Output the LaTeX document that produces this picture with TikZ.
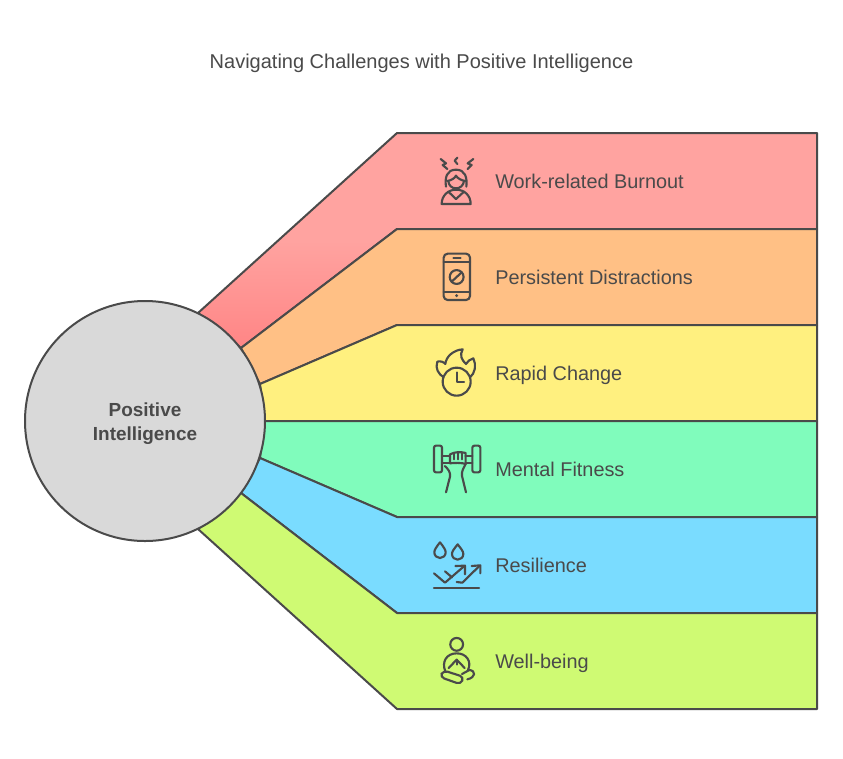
\documentclass[tikz,border=0pt]{standalone}
\usepackage{fontspec}
\setmainfont{Liberation Sans}
\definecolor{ink}{HTML}{4A4A4A}
\definecolor{cred}{HTML}{FFA3A0}
\definecolor{credd}{HTML}{FF8585}
\definecolor{corange}{HTML}{FFC085}
\definecolor{cyellow}{HTML}{FFF07F}
\definecolor{cgreen}{HTML}{80FCBC}
\definecolor{cblue}{HTML}{7ADCFF}
\definecolor{clime}{HTML}{CFFA73}
\definecolor{ccircle}{HTML}{D9D9D9}
\tikzset{
  band/.style={draw=ink,line width=1.5pt,line join=round},
  label/.style={text=ink,anchor=base west,font=\fontsize{14.9}{18}\selectfont,inner sep=0pt},
  icon/.style={draw=ink,line width=1.6pt,line cap=round,line join=round,fill=none},
  iconbox/.style={x=0.25pt,y=-0.25pt}
}
\begin{document}
\begin{tikzpicture}[x=0.75pt,y=-0.75pt]
\useasboundingbox (0,0) rectangle (843,758);
\fill[white] (0,0) rectangle (843,758);
\node[text=ink,font=\fontsize{15}{18}\selectfont,inner sep=0pt,anchor=base] (title) at (421.5,68) {Navigating Challenges with Positive Intelligence};
% bands
\path[band,top color=cred,bottom color=credd,middle color=cred] (198,313) -- (397,133) -- (817,133) -- (817,229) -- (397,229) -- (241,348) -- cycle;
\draw[band,fill=corange] (241,348) -- (397,229) -- (817,229) -- (817,325) -- (397,325) -- (260,384) -- cycle;
\draw[band,fill=cyellow] (260,384) -- (397,325) -- (817,325) -- (817,421) -- (265,421) -- cycle;
\draw[band,fill=cgreen] (265,421) -- (817,421) -- (817,517) -- (397,517) -- (260,458) -- cycle;
\draw[band,fill=cblue] (260,458) -- (397,517) -- (817,517) -- (817,613) -- (397,613) -- (241,493) -- cycle;
\draw[band,fill=clime] (241,493) -- (397,613) -- (817,613) -- (817,709) -- (397,709) -- (198,529) -- cycle;
% hub
\node[circle,draw=ink,line width=1.5pt,fill=ccircle,minimum size=180pt,inner sep=0pt] (hub) at (145,421) {};
\node[align=center,text=ink,inner sep=0pt,font=\fontsize{14.2}{18}\selectfont\bfseries] (hubtext) at (145,424) {Positive\\Intelligence};
% labels
\node[label] (l1) at (495,188) {Work-related Burnout};
\node[label] (l2) at (495,284) {Persistent Distractions};
\node[label] (l3) at (495,380) {Rapid Change};
\node[label] (l4) at (495,476) {Mental Fitness};
\node[label] (l5) at (495,572) {Resilience};
\node[label] (l6) at (495,668) {Well-being};
% icon 1: burnout
\begin{scope}[shift={(420,145)},iconbox]
\draw[icon] (62,42) -- (78,55) -- (68,60) -- (82,72);
\draw[icon] (112,38) -- (104,47) -- (112,57);
\draw[icon] (160,42) -- (143,55) -- (155,60) -- (143,72);
\draw[icon] (78,125) .. controls (74,98) and (80,74) .. (108,74) .. controls (136,74) and (142,98) .. (139,125);
\draw[icon] (82,108) .. controls (94,106) and (104,100) .. (108,92) .. controls (112,100) and (124,106) .. (136,108);
\draw[icon] (85,108) .. controls (86,122) and (96,130) .. (108,130) .. controls (120,130) and (130,122) .. (132,108);
\draw[icon] (65,177) -- (152,177) .. controls (152,152) and (134,134) .. (108,134) .. controls (84,134) and (65,152) .. (65,177) -- cycle;
\draw[icon] (85,140) -- (108,162) -- (132,140);
\end{scope}
% icon 2: phone
\begin{scope}[shift={(420,145)},iconbox]
\draw[icon,rounded corners=3pt] (71,326) rectangle (150,465);
\draw[icon] (71,352) -- (150,352);
\draw[icon] (71,440) -- (150,440);
\draw[icon] (100,339) -- (122,339);
\fill[ink] (110,452) circle (1.2pt);
\draw[icon] (110,396) circle (5.2pt);
\draw[icon] (95,410) -- (125,382);
\end{scope}
% icon 3: clock and flame
\begin{scope}[shift={(420,340)},iconbox]
\draw[icon] (110,125) circle (10.5pt);
\draw[icon] (110,97) -- (110,125) -- (132,125);
\draw[icon] (71,112) .. controls (55,102) and (45,85) .. (52,65) .. controls (60,62) and (72,66) .. (76,72) .. controls (78,50) and (100,30) .. (128,28) .. controls (118,45) and (125,60) .. (138,72) .. controls (142,64) and (150,58) .. (160,55) .. controls (170,75) and (165,100) .. (150,112);
\end{scope}
% icon 4: dumbbell
\begin{scope}[shift={(420,340)},iconbox]
\draw[icon,rounded corners=1.5pt] (42,317) rectangle (66,397);
\draw[icon,rounded corners=1.5pt] (157,317) rectangle (181,397);
\draw[icon] (66,348) -- (90,348);
\draw[icon] (66,368) -- (90,368);
\draw[icon] (136,348) -- (157,348);
\draw[icon] (136,368) -- (157,368);
\draw[icon] (90,370) -- (90,343) .. controls (105,335) and (122,335) .. (137,339) -- (137,372);
\draw[icon] (103,340) -- (103,358);
\draw[icon] (114,338) -- (114,358);
\draw[icon] (126,339) -- (126,358);
\draw[icon] (90,370) .. controls (100,368) and (128,368) .. (137,372);
\draw[icon] (75,378) .. controls (84,388) and (92,395) .. (90,410) -- (78,457);
\draw[icon] (137,372) .. controls (130,385) and (124,395) .. (126,408) -- (138,457);
\end{scope}
% icon 5: resilience
\begin{scope}[shift={(420,530)},iconbox]
\draw[icon] (60,37) .. controls (48,52) and (43,60) .. (43,67) .. controls (43,77) and (51,84) .. (60,84) .. controls (69,84) and (77,77) .. (77,67) .. controls (77,60) and (72,52) .. (60,37) -- cycle;
\draw[icon] (113,43) .. controls (102,57) and (96,64) .. (96,72) .. controls (96,82) and (104,89) .. (113,89) .. controls (122,89) and (130,82) .. (130,72) .. controls (130,64) and (124,57) .. (113,43) -- cycle;
\draw[icon] (42,130) -- (75,158) -- (133,108);
\draw[icon] (106,108) -- (135,107) -- (135,133);
\draw[icon] (75,124) -- (96,142);
\draw[icon] (110,156) -- (127,158) -- (178,108);
\draw[icon] (155,108) -- (181,106) -- (181,130);
\draw[icon] (42,173) -- (177,173);
\end{scope}
% icon 6: well-being
\begin{scope}[shift={(420,530)},iconbox]
\draw[icon] (110,343) circle (4.8pt);
\draw[icon] (76,424) .. controls (64,395) and (80,370) .. (110,370) .. controls (140,370) and (156,395) .. (144,420);
\draw[icon] (86,414) -- (110,389) -- (134,414);
\draw[icon] (110,389) -- (110,404);
\draw[icon,rounded corners=3.2pt] (70,421) -- (132,441) -- (122,463) -- (60,441) -- cycle;
\draw[icon] (126,432) -- (148,420) .. controls (168,422) and (168,442) .. (142,448);
\end{scope}
\end{tikzpicture}
\end{document}
